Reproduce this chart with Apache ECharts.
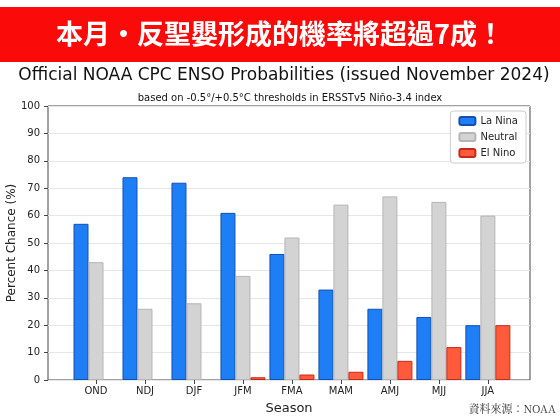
<!DOCTYPE html><html><head><meta charset="utf-8">
<script src="https://cdn.jsdelivr.net/npm/echarts@6/dist/echarts.min.js"></script>
<style>body{margin:0}#c{width:560px;height:420px}</style></head><body><div id="c"></div>
<script>
const categories=['OND','NDJ','DJF','JFM','FMA','MAM','AMJ','MJJ','JJA'];
const laNina=[57,74,72,61,46,33,26,23,20];
const neutral=[43,26,28,38,52,64,67,65,60];
const elNino=[0,0,0,1,2,3,7,12,20];
const yTicks=[0,10,20,30,40,50,60,70,80,90,100];
const ch=echarts.init(document.getElementById('c'));
const idx=categories.map((_,i)=>i);
const mk=(name,arr,color,border)=>({name,type:'bar',data:arr.map((v,i)=>[i,v===0?'-':v]),barWidth:15,barGap:'0%',
 itemStyle:{color,borderColor:border,borderWidth:1}});
ch.setOption({
 animation:false,
 graphic:[
  {type:'rect',shape:{x:0,y:7,width:560,height:55},style:{fill:'#fb0a0a'}},
  {type:'text',x:280,y:34,style:{text:'本月・反聖嬰形成的機率將超過7成！',fill:'#fff',font:'bold 27px "Noto Sans CJK TC"',align:'center',verticalAlign:'middle'}},
  {type:'text',x:284,y:76,style:{text:'Official NOAA CPC ENSO Probabilities (issued November 2024)',fill:'#111',font:'17px "DejaVu Sans"',align:'center',verticalAlign:'middle'}},
  {type:'text',x:290,y:98,style:{text:'based on -0.5°/+0.5°C thresholds in ERSSTv5 Niño-3.4 index',fill:'#111',font:'10px "DejaVu Sans"',align:'center',verticalAlign:'middle'}},
  {type:'text',x:556,y:409,style:{text:'資料來源：NOAA',fill:'#333',font:'11px "Noto Serif CJK TC", serif',align:'right',verticalAlign:'middle'}}
 ],
 grid:{left:48,right:30,top:106,bottom:40,outerBoundsMode:'none',containLabel:false,show:true,borderColor:'#444',borderWidth:1},
 legend:{right:34,top:111,orient:'vertical',itemWidth:16,itemHeight:8,itemGap:6,
  backgroundColor:'#fff',borderColor:'#ccc',borderWidth:1,borderRadius:3,padding:[5,8],
  textStyle:{fontSize:10,fontFamily:'DejaVu Sans',color:'#222'},data:['La Nina','Neutral','El Nino']},
 xAxis:{type:'value',min:-0.98,max:8.86,name:'Season',nameLocation:'middle',nameGap:22,
  nameTextStyle:{fontSize:13,fontFamily:'DejaVu Sans',color:'#222'},
  axisLine:{show:false,onZero:false},splitLine:{show:false},
  axisTick:{show:true,customValues:idx,length:4,lineStyle:{color:'#444'}},
  axisLabel:{customValues:idx,formatter:v=>categories[Math.round(v)],fontSize:10,fontFamily:'DejaVu Sans',color:'#222',margin:6}},
 yAxis:{type:'value',min:0,max:100,interval:10,name:'Percent Chance (%)',nameLocation:'middle',nameGap:30,
  nameTextStyle:{fontSize:12,fontFamily:'DejaVu Sans',color:'#222',padding:[0,0,0,0]},nameMoveOverlap:false,
  axisLine:{show:false,onZero:false},axisTick:{show:true,length:4,customValues:yTicks,lineStyle:{color:'#444'}},
  splitLine:{lineStyle:{color:'#e6e6e6'}},
  axisLabel:{fontSize:10,fontFamily:'DejaVu Sans',color:'#222',customValues:yTicks}},
 series:[mk('La Nina',laNina,'#1e7ef6','#1450b0'),mk('Neutral',neutral,'#d3d3d3','#b5b5b5'),mk('El Nino',elNino,'#ff5a3c','#c62a1a')]
});
</script></body></html>
